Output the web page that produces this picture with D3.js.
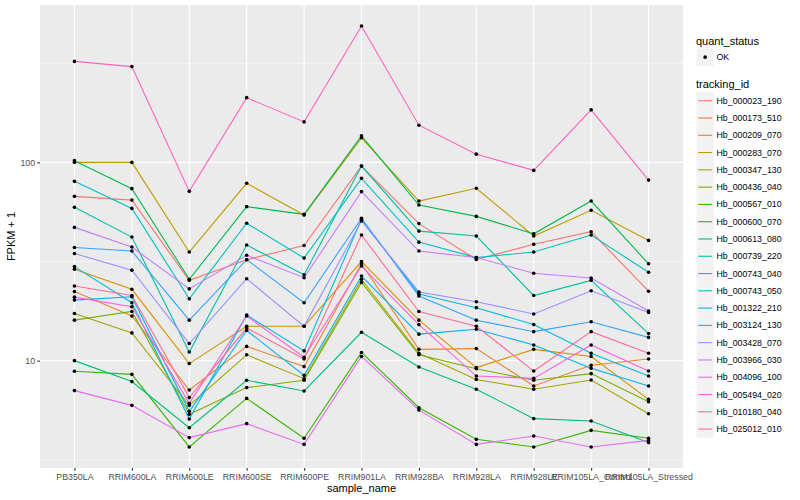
<!DOCTYPE html>
<html><head><meta charset="utf-8">
<script src="https://cdn.jsdelivr.net/npm/d3@7"></script>
<style>body{margin:0;background:#fff;} svg{display:block;font-family:"Liberation Sans",Arial,Helvetica,sans-serif;}</style>
</head><body><svg id="chart" width="800" height="500"></svg>
<script>
// ---- data ----
const categories = ["PB350LA","RRIM600LA","RRIM600LE","RRIM600SE","RRIM600PE","RRIM901LA","RRIM928BA","RRIM928LA","RRIM928LE","RRIM105LA_Control","RRIM105LA_Stressed"];
const trackingIds = ["Hb_000023_190","Hb_000173_510","Hb_000209_070","Hb_000283_070","Hb_000347_130","Hb_000436_040","Hb_000567_010","Hb_000600_070","Hb_000613_080","Hb_000739_220","Hb_000743_040","Hb_000743_050","Hb_001322_210","Hb_003124_130","Hb_003428_070","Hb_003966_030","Hb_004096_100","Hb_005494_020","Hb_010180_040","Hb_025012_010"];
const quantStatus = ["OK"];

const Hb_000023_190 = [67.4, 64.5, 25.4, 32.3, 38.1, 95.8, 49.1, 32.4, 38.6, 44.7, 22.4];
const Hb_000173_510 = [22.3, 16.8, 7.11, 11.8, 9.33, 30.8, 11.4, 11.5, 7.45, 9.47, 10.2];
const Hb_000209_070 = [28.9, 22.9, 9.66, 14.9, 14.9, 31.6, 16.0, 9.22, 11.4, 10.5, 6.38];
const Hb_000283_070 = [100, 100, 35.3, 78.4, 54.2, 133, 63.8, 74.0, 42.5, 57.3, 40.4];
const Hb_000347_130 = [17.3, 13.8, 5.95, 10.7, 8.11, 25.7, 10.9, 8.04, 7.17, 7.98, 5.40];
const Hb_000436_040 = [16.0, 17.7, 5.36, 7.31, 7.96, 24.8, 10.7, 9.11, 7.96, 8.60, 6.21];
const Hb_000567_010 = [8.84, 8.53, 3.67, 6.45, 4.06, 11.0, 5.79, 4.01, 3.67, 4.45, 4.06];
const Hb_000600_070 = [102, 73.7, 25.7, 59.8, 54.7, 136, 60.9, 53.4, 43.6, 63.8, 30.8];
const Hb_000613_080 = [10.0, 7.84, 4.59, 7.96, 7.03, 13.9, 9.28, 7.17, 5.10, 4.96, 3.86];
const Hb_000739_220 = [59.3, 42.0, 11.05, 38.3, 27.1, 95.8, 45.0, 42.5, 21.3, 25.4, 13.7];
const Hb_000743_040 = [80.2, 58.6, 20.5, 49.3, 32.9, 83.1, 39.6, 33.1, 35.3, 43.0, 27.9];
const Hb_000743_050 = [29.8, 19.6, 5.08, 17.0, 11.2, 51.6, 21.7, 18.5, 15.2, 10.9, 8.36];
const Hb_001322_210 = [20.2, 21.0, 5.55, 14.2, 8.43, 26.7, 13.6, 14.4, 12.0, 9.15, 7.45];
const Hb_003124_130 = [37.2, 35.7, 16.0, 32.3, 19.6, 52.2, 21.2, 16.0, 14.0, 15.7, 13.1];
const Hb_003428_070 = [34.7, 28.6, 12.2, 25.9, 14.9, 50.6, 22.2, 19.8, 17.2, 22.5, 17.5];
const Hb_003966_030 = [47.0, 37.4, 23.0, 34.0, 26.2, 71.2, 35.7, 33.1, 27.6, 26.1, 17.8];
const Hb_004096_100 = [7.06, 5.95, 4.09, 4.81, 3.78, 10.5, 5.63, 3.78, 4.17, 3.67, 3.96];
const Hb_005494_020 = [20.9, 18.7, 6.09, 16.8, 10.4, 30.0, 15.2, 8.36, 8.14, 12.0, 8.86];
const Hb_010180_040 = [323, 304, 71.4, 212, 160, 487, 154, 110, 91.1, 184, 81.4];
const Hb_025012_010 = [23.8, 21.3, 6.51, 14.6, 10.2, 43.0, 17.7, 14.9, 8.86, 14.0, 10.9];

const seriesValues = [Hb_000023_190, Hb_000173_510, Hb_000209_070, Hb_000283_070, Hb_000347_130,
  Hb_000436_040, Hb_000567_010, Hb_000600_070, Hb_000613_080, Hb_000739_220, Hb_000743_040,
  Hb_000743_050, Hb_001322_210, Hb_003124_130, Hb_003428_070, Hb_003966_030, Hb_004096_100,
  Hb_005494_020, Hb_010180_040, Hb_025012_010];

const yTickValues = [10, 100];

// ggplot2 default hue palette for 20 levels
const palette = ["#F8766D","#EA8331","#D89000","#C09B00","#A3A500","#7CAE00","#39B600","#00BB4E","#00BF7D","#00C1A3","#00BFC4","#00BAE0","#00B0F6","#35A2FF","#9590FF","#C77CFF","#E76BF3","#FA62DB","#FF62BC","#FF6C91"];

// ---- layout ----
const svg = d3.select("#chart");
const P = {left: 40, right: 683, top: 5, bottom: 468};

const x = d3.scalePoint().domain(categories).range([P.left, P.right]).padding(0.6);
const allVals = seriesValues.flat();
const lmin = Math.log10(d3.min(allVals)), lmax = Math.log10(d3.max(allVals));
const ex = (lmax - lmin) * 0.05;
const y = d3.scaleLog().domain([Math.pow(10, lmin - ex), Math.pow(10, lmax + ex)]).range([P.bottom, P.top]);

const color = d3.scaleOrdinal().domain(trackingIds).range(palette);

// panel
svg.append("rect").attr("x", P.left).attr("y", P.top)
  .attr("width", P.right - P.left).attr("height", P.bottom - P.top).attr("fill", "#EBEBEB");

// minor grid (log midpoints)
const minor = [];
for (let k = Math.floor(lmin - ex) - 1; k <= Math.ceil(lmax + ex); k++) {
  const v = Math.pow(10, k + 0.5);
  if (v >= y.domain()[0] && v <= y.domain()[1]) minor.push(v);
}
svg.append("g").selectAll("line").data(minor).join("line")
  .attr("x1", P.left).attr("x2", P.right)
  .attr("y1", d => y(d)).attr("y2", d => y(d))
  .attr("stroke", "#fff").attr("stroke-width", 0.55);

// major grid
svg.append("g").selectAll("line").data(yTickValues).join("line")
  .attr("x1", P.left).attr("x2", P.right)
  .attr("y1", d => y(d)).attr("y2", d => y(d))
  .attr("stroke", "#fff").attr("stroke-width", 1.1);
svg.append("g").selectAll("line").data(categories).join("line")
  .attr("x1", d => x(d)).attr("x2", d => x(d))
  .attr("y1", P.top).attr("y2", P.bottom)
  .attr("stroke", "#fff").attr("stroke-width", 1.1);

// lines
const line = d3.line().x((d, i) => x(categories[i])).y(d => y(d));
svg.append("g").selectAll("path").data(seriesValues).join("path")
  .attr("d", d => line(d))
  .attr("fill", "none")
  .attr("stroke", (d, i) => color(trackingIds[i]))
  .attr("stroke-width", 1.1);

// points
const pts = [];
seriesValues.forEach((s, si) => s.forEach((v, i) => pts.push({c: categories[i], v})));
svg.append("g").selectAll("circle").data(pts).join("circle")
  .attr("cx", d => x(d.c)).attr("cy", d => y(d.v)).attr("r", 1.8).attr("fill", "#000");

// axes
const yAxis = svg.append("g").attr("transform", `translate(${P.left},0)`)
  .call(d3.axisLeft(y).tickValues(yTickValues).tickFormat(d3.format("d")).tickSize(2.75).tickPadding(2.2));
const xAxis = svg.append("g").attr("transform", `translate(0,${P.bottom})`)
  .call(d3.axisBottom(x).tickSize(2.75).tickPadding(3.3));
[yAxis, xAxis].forEach(a => {
  a.select(".domain").remove();
  a.selectAll(".tick line").attr("stroke", "#333333").attr("stroke-width", 1.1);
  a.selectAll(".tick text").attr("fill", "#4D4D4D").style("font-size", "8.8px")
    .style("font-family", '"Liberation Sans",Arial,sans-serif');
});

// axis titles
svg.append("text").attr("x", (P.left + P.right) / 2).attr("y", 492)
  .attr("text-anchor", "middle").style("font-size", "11px").attr("fill", "#000").text("sample_name");
svg.append("text").attr("transform", `translate(15,${(P.top + P.bottom) / 2}) rotate(-90)`)
  .attr("text-anchor", "middle").style("font-size", "11px").attr("fill", "#000").text("FPKM + 1");

// legend: quant_status
const L = svg.append("g");
L.append("text").attr("x", 696).attr("y", 44.5).style("font-size", "11px").text("quant_status");
const qk = L.selectAll("g.q").data(quantStatus).join("g").attr("class", "q")
  .attr("transform", (d, i) => `translate(696.5,${48.5 + i * 17.28})`);
qk.append("rect").attr("width", 17.28).attr("height", 17.28).attr("fill", "#F2F2F2");
qk.append("circle").attr("cx", 8.64).attr("cy", 8.64).attr("r", 1.8).attr("fill", "#000");
qk.append("text").attr("x", 20).attr("y", 8.64).attr("dy", "0.35em").style("font-size", "8.8px").text(d => d);

// legend: tracking_id
L.append("text").attr("x", 696).attr("y", 88).style("font-size", "11px").text("tracking_id");
const tk = L.selectAll("g.t").data(trackingIds).join("g").attr("class", "t")
  .attr("transform", (d, i) => `translate(696.5,${92.1 + i * 17.28})`);
tk.append("rect").attr("width", 17.28).attr("height", 17.28).attr("fill", "#F2F2F2");
tk.append("line").attr("x1", 1.7).attr("x2", 15.6).attr("y1", 8.64).attr("y2", 8.64)
  .attr("stroke", d => color(d)).attr("stroke-width", 1.1);
tk.append("text").attr("x", 20).attr("y", 8.64).attr("dy", "0.35em").style("font-size", "8.8px").text(d => d);
</script></body></html>
